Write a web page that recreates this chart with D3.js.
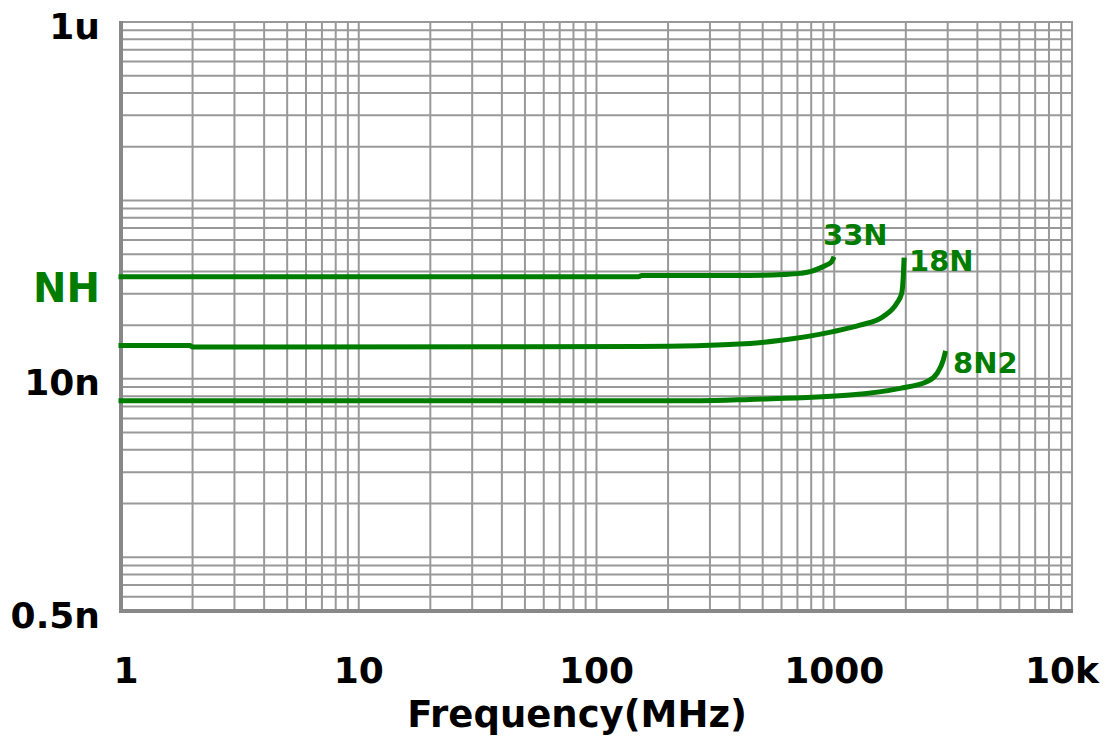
<!DOCTYPE html>
<html>
<head>
<meta charset="utf-8">
<script src="https://cdn.jsdelivr.net/npm/d3@7"></script>
<style>
  body { margin: 0; background: #fff; }
  text { font-family: "DejaVu Sans", Verdana, sans-serif; font-weight: bold; }
</style>
</head>
<body>
<svg id="main-svg"></svg>
<script>
// chart data: frequency in MHz, inductance in nH
let seriesNames = ["33N", "18N", "8N2"];

let freq33 = [1, 150, 155, 442, 609, 718, 800, 871, 930, 975, 988];
let ind33 = [37.4, 37.4, 37.9, 38.0, 38.4, 39.0, 40.0, 41.8, 43.5, 45.3, 46.9];

let freq18 = [1, 1.95, 2.0, 152, 442, 609, 988, 1283, 1603, 1832, 1922, 1951, 1965];
let ind18 = [15.37, 15.37, 15.07, 15.2, 15.8, 16.5, 18.4, 20.0, 22.3, 26.5, 30.2, 37.3, 46.3];

let freq8 = [1, 272, 442, 1164, 1891, 2448, 2700, 2875, 2923];
let ind8 = [7.54, 7.54, 7.67, 8.11, 8.85, 9.63, 10.7, 12.75, 13.9];

let xTicks = [1, 10, 100, 1000, 10000];
let xTickLabels = ["1", "10", "100", "1000", "10k"];
let yTicks = [1000, 10, 0.5];
let yTickLabels = ["1u", "10n", "0.5n"];

let width = 1111;
let height = 738;
let green = "#007d00";

let svg = d3.select("#main-svg").attr("width", width).attr("height", height);
svg.append("rect").attr("width", width).attr("height", height).attr("fill", "#fff");

let x = d3.scaleLog().domain([1, 10000]).range([121, 1072]);
let y = d3.scaleLog().domain([0.5, 1000]).range([611, 22]);

let GridLayer = svg.append("g");
let LineLayer = svg.append("g");
let TextLayer = svg.append("g");

// minor/major log grid, 1..9 per decade
let xGrid = [];
for (let d = 1; d < 10000; d *= 10) for (let k = 1; k < 10; k++) xGrid.push(d * k);
let yGrid = [];
for (let d = 0.1; d < 1000; d *= 10) for (let k = 1; k < 10; k++) {
    let v = +(d * k).toPrecision(3);
    if (v > 0.5 && v < 1000) yGrid.push(v);
}

GridLayer.selectAll(".vgrid").data(xGrid.slice(1)).enter().append("line")
    .attr("x1", d => x(d)).attr("x2", d => x(d))
    .attr("y1", y(1000)).attr("y2", y(0.5))
    .attr("stroke", "#999").attr("stroke-width", 2);

GridLayer.selectAll(".hgrid").data(yGrid).enter().append("line")
    .attr("x1", x(1)).attr("x2", x(10000))
    .attr("y1", d => y(d)).attr("y2", d => y(d))
    .attr("stroke", "#999").attr("stroke-width", 2);

// frame: thin top/right, thick left/bottom
GridLayer.append("line").attr("x1", x(1)).attr("x2", x(10000) + 1)
    .attr("y1", y(1000)).attr("y2", y(1000)).attr("stroke", "#999").attr("stroke-width", 2);
GridLayer.append("line").attr("x1", x(10000)).attr("x2", x(10000))
    .attr("y1", y(1000)).attr("y2", y(0.5)).attr("stroke", "#999").attr("stroke-width", 2);
GridLayer.append("line").attr("x1", x(1)).attr("x2", x(1))
    .attr("y1", y(1000) - 1).attr("y2", y(0.5) + 2).attr("stroke", "#888").attr("stroke-width", 4);
GridLayer.append("line").attr("x1", x(1) - 2).attr("x2", x(10000) + 1)
    .attr("y1", y(0.5)).attr("y2", y(0.5)).attr("stroke", "#888").attr("stroke-width", 4);

// curves
let curves = [
    { name: seriesNames[0], f: freq33, l: ind33 },
    { name: seriesNames[1], f: freq18, l: ind18 },
    { name: seriesNames[2], f: freq8, l: ind8 }
];
let labelOffset = [[-10, -14], [5, 11], [8, 20]];

let line = d3.line()
    .curve(d3.curveMonotoneX)
    .x(d => x(d[0]))
    .y(d => y(d[1]));

curves.forEach(function (c, i) {
    let pts = c.f.map((f, j) => [f, c.l[j]]);
    LineLayer.append("path")
        .attr("d", line(pts))
        .attr("fill", "none")
        .attr("stroke", green)
        .attr("stroke-width", 5)
        .attr("stroke-linecap", "square");

    let last = pts[pts.length - 1];
    TextLayer.append("text")
        .attr("x", x(last[0]) + labelOffset[i][0])
        .attr("y", y(last[1]) + labelOffset[i][1])
        .attr("fill", green)
        .style("font-size", "29px")
        .text(c.name);
});

// axis labels
let xOff = [5, 0, 0, 0, -10];
TextLayer.selectAll(".xlab").data(xTicks).enter().append("text")
    .attr("x", (d, i) => x(d) + xOff[i])
    .attr("y", 683)
    .attr("text-anchor", "middle")
    .attr("fill", "#000")
    .style("font-size", "36px")
    .text((d, i) => xTickLabels[i]);

TextLayer.selectAll(".ylab").data(yTicks).enter().append("text")
    .attr("x", 100)
    .attr("y", d => y(d) + 4)
    .attr("dy", "0.35em")
    .attr("text-anchor", "end")
    .attr("fill", "#000")
    .style("font-size", "36px")
    .text((d, i) => yTickLabels[i]);

TextLayer.append("text")
    .attr("x", 100).attr("y", 302)
    .attr("text-anchor", "end")
    .attr("fill", green)
    .style("font-size", "40px")
    .text("NH");

TextLayer.append("text")
    .attr("x", 577).attr("y", 727)
    .attr("text-anchor", "middle")
    .attr("fill", "#000")
    .style("font-size", "37px")
    .text("Frequency(MHz)");
</script>
</body>
</html>
